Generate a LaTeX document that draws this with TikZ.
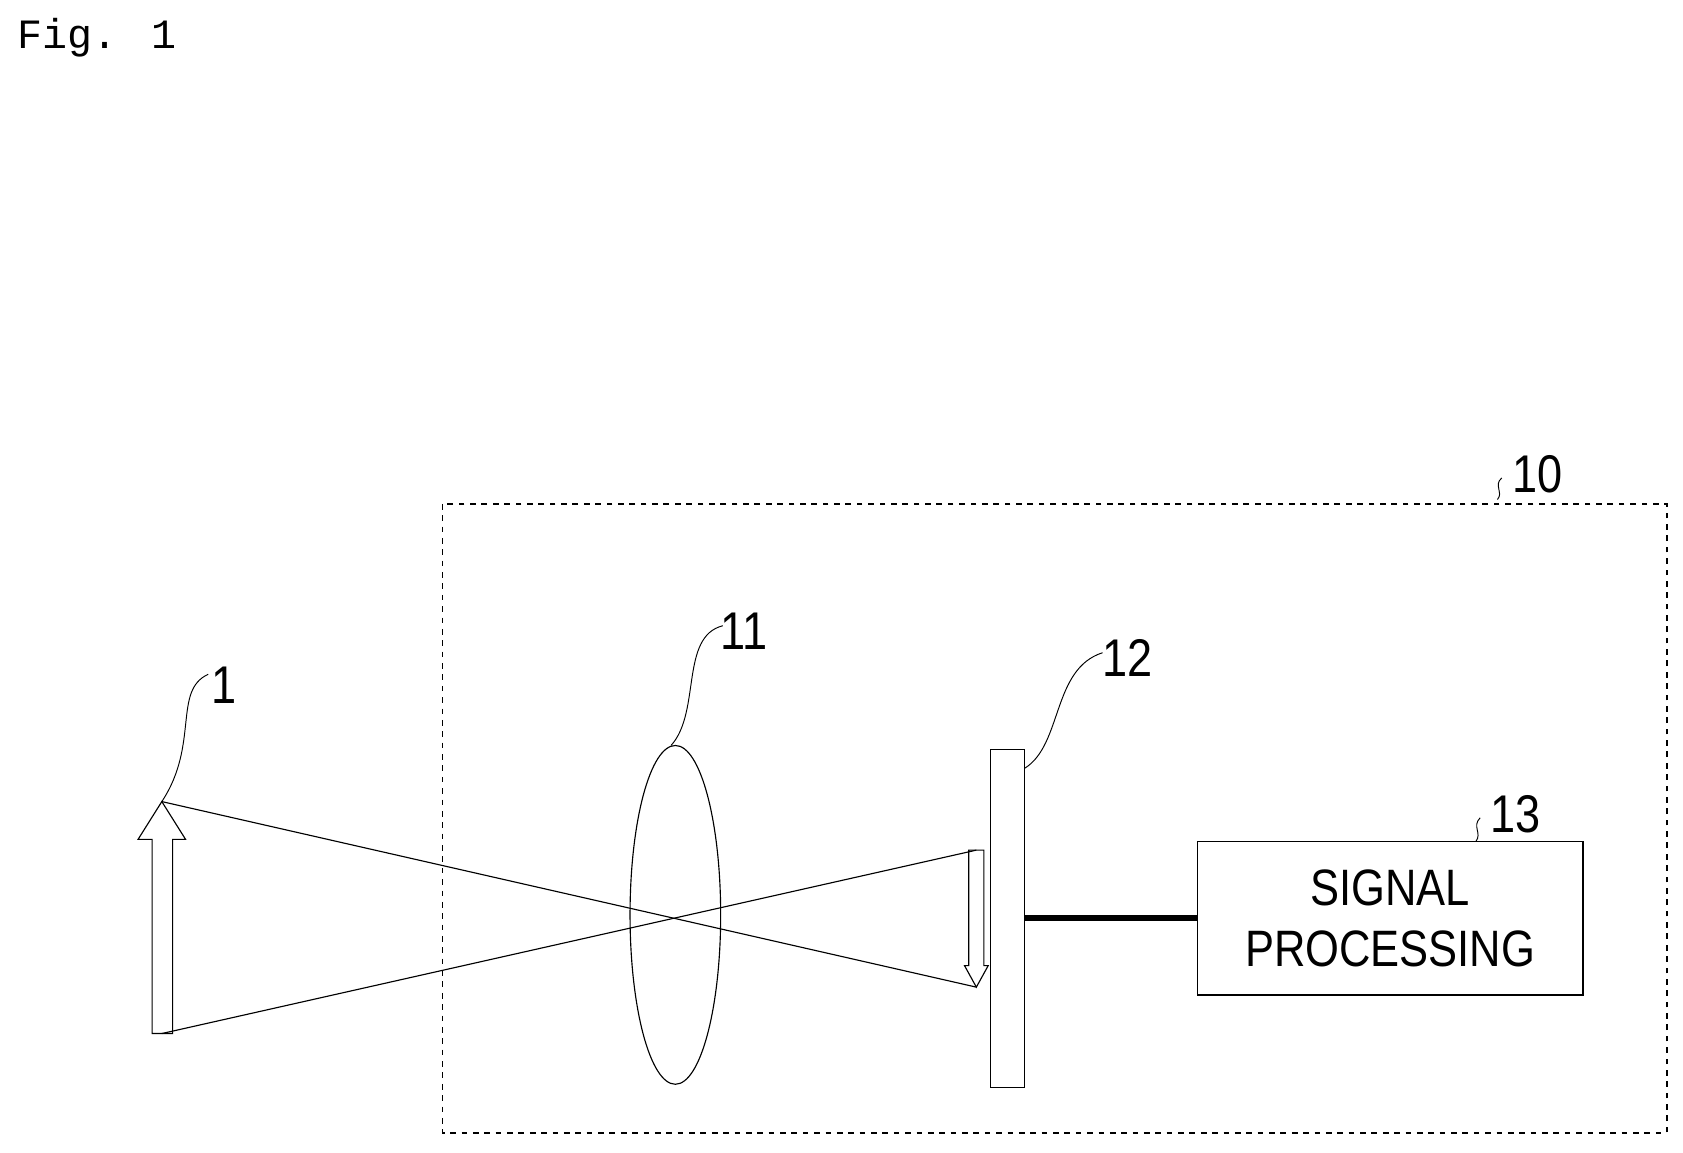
\documentclass[tikz,border=0pt]{standalone}
\usepackage{fontspec}
\setmainfont{Liberation Sans}
\newfontfamily\figmono{Liberation Mono}
\usetikzlibrary{calc}
\begin{document}
\begin{tikzpicture}[x=0.02cm,y=-0.02cm,line width=0.6pt,
  lbl/.style={font=\fontsize{28}{28}\selectfont,xscale=0.85},
  leader/.style={line width=0.5pt}]
  \useasboundingbox (0,0) rectangle (1560,1068);
  \node[anchor=west,font=\figmono\fontsize{22}{22}\selectfont] (fig) at (10,35) {Fig. 1};
  % camera outline
  \draw[dashed,line width=0.8pt] (410,467) rectangle (1545,1050);
  \node[lbl] (l10) at (1425,440) {10};
  \draw[leader] (1392,443) .. controls (1384,450) and (1394,456) .. (1388,463);
  % object arrow
  \draw (141,958) -- (141,778) -- (128,778) -- (150,743) coordinate (otip)
        -- (172,778) -- (160,778) -- (160,958) -- cycle;
  \coordinate (obot) at (150,958);
  % lens
  \draw (626,848) ellipse [x radius=42,y radius=157];
  \coordinate (lens) at (622,691);
  % sensor
  \draw (918,695) rectangle (950,1008);
  \coordinate (sens) at (950,712);
  % image arrow
  \draw (898,788) -- (898,895) -- (894,895) -- (905,915) coordinate (itip)
        -- (916,895) -- (912,895) -- (912,788) -- cycle;
  \coordinate (itop) at (905,788);
  % rays
  \draw (otip) -- (itip);
  \draw (obot) -- (itop);
  % signal processing
  \node[draw,line width=1pt,minimum width=357*0.02cm,minimum height=142*0.02cm,
        align=center,font=\fontsize{27}{32}\selectfont] (proc) at (1288.5,851) {\scalebox{0.85}[1]{SIGNAL}\\\scalebox{0.85}[1]{PROCESSING}};
  \draw[line width=3pt] (950,851) -- (proc.west);
  \node[lbl] (l13) at (1405,755) {13};
  \draw[leader] (1372,758) .. controls (1364,766) and (1374,772) .. (1368,780);
  % leaders
  \node[lbl] (l1) at (208,635) {1};
  \draw[leader] (otip) .. controls (185,690) and (160,640) .. (193,625);
  \node[lbl] (l11) at (690,585) {11};
  \draw[leader] (lens) .. controls (650,660) and (630,590) .. (670,580);
  \node[lbl] (l12) at (1045,610) {12};
  \draw[leader] (sens) .. controls (985,690) and (975,620) .. (1022,605);
\end{tikzpicture}
\end{document}
